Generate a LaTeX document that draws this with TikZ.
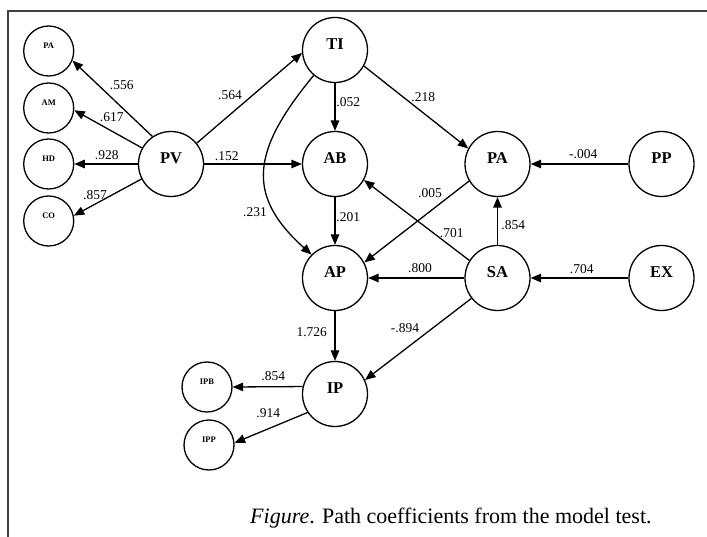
\documentclass[tikz,border=0pt]{standalone}
\usepackage{fontspec}
\setmainfont{Liberation Serif}
\usetikzlibrary{arrows.meta}
\begin{document}
\begin{tikzpicture}[x=1pt,y=-1pt,
  big/.style={circle,draw,line width=1.3pt,minimum size=65pt,inner sep=0pt},
  sml/.style={circle,draw,line width=1.3pt,minimum size=50pt,inner sep=0pt},
  btxt/.style={font=\fontsize{16.5}{16.5}\selectfont\bfseries,yshift=5.5pt},
  stxt/.style={font=\fontsize{8.5}{8.5}\selectfont\bfseries,yshift=5pt},
  arr/.style={line width=1.3pt,-{Triangle[length=10.5pt,width=8.5pt]}},
  coef/.style={font=\fontsize{13.5}{13.5}\selectfont,inner sep=0pt},
  frame/.style={line width=1.5pt,draw=black!75}]
\useasboundingbox (0,0) rectangle (707,537);
\draw[frame] (707,11) -- (8,11) -- (8,537);
% small indicator circles
\node[sml,label={[stxt]center:PA}] (sPA) at (48.7,51) {};
\node[sml,label={[stxt]center:AM}] (AM) at (48.7,108) {};
\node[sml,label={[stxt]center:HD}] (HD) at (48.7,164) {};
\node[sml,label={[stxt]center:CO}] (CO) at (48.7,221) {};
\node[sml,label={[stxt]center:IPB}] (IPB) at (207,387) {};
\node[sml,label={[stxt]center:IPP}] (IPP) at (209,445) {};
% main constructs
\node[big,label={[btxt]center:PV}] (PV) at (171,164) {};
\node[big,label={[btxt]center:TI}] (TI) at (335,50) {};
\node[big,label={[btxt]center:AB}] (AB) at (335,164) {};
\node[big,label={[btxt]center:AP}] (AP) at (335,278) {};
\node[big,label={[btxt]center:PA}] (PA) at (497.5,164) {};
\node[big,label={[btxt]center:PP}] (PP) at (661.5,164) {};
\node[big,label={[btxt]center:SA}] (SA) at (497.5,278) {};
\node[big,label={[btxt]center:EX}] (EX) at (661.5,278) {};
\node[big,label={[btxt]center:IP}] (IP) at (335,394) {};
% connectors
\draw[arr] (PV.124) -- (sPA.-22);
\draw[arr] (PV.151) -- (AM.-5);
\draw[arr] (PV.west) -- (HD.east);
\draw[arr] (PV.207) -- (CO.12);
\draw[arr] (PV.39) -- (TI.185);
\draw[arr] (PV.east) -- (AB.west);
\draw[arr] (TI.south) -- (AB.north);
\draw[arr] (TI.-29.5) -- (PA.152);
\draw[arr] (TI.230) .. controls (252,150) and (245,195) .. (AP.135);
\draw[arr] (AB.south) -- (AP.north);
\draw[arr] (PA.211) -- (AP.28);
\draw[arr] (SA.148.5) -- (AB.-29);
\draw[arr] (SA.north) -- (PA.south);
\draw[arr] (SA.west) -- (AP.east);
\draw[arr] (PP.west) -- (PA.east);
\draw[arr] (EX.west) -- (SA.east);
\draw[arr] (AP.south) -- (IP.north);
\draw[arr] (SA.218) -- (IP.25);
\draw[arr] (IP.167) -- (IPB.east);
\draw[arr] (IP.214) -- (IPP.5);
% coefficients
\node[coef] (l556) at (121.7,85) {.556};
\node[coef] (l617) at (111.7,116.7) {.617};
\node[coef] (l928) at (106.7,155) {.928};
\node[coef] (l857) at (95,195) {.857};
\node[coef] (l564) at (230,95) {.564};
\node[coef] (l152) at (226.7,156) {.152};
\node[coef] (l231) at (255,211.7) {.231};
\node[coef] (l052) at (348.3,101.7) {.052};
\node[coef] (l218) at (423.3,96.7) {.218};
\node[coef] (l004) at (583.3,154) {-.004};
\node[coef] (l005) at (430,192.7) {.005};
\node[coef] (l201) at (348.3,216.7) {.201};
\node[coef] (l701) at (451.7,233.3) {.701};
\node[coef] (l854a) at (513.3,225) {.854};
\node[coef] (l800) at (420,268.3) {.800};
\node[coef] (l704) at (581.7,269.3) {.704};
\node[coef] (l1726) at (311.7,331.7) {1.726};
\node[coef] (l894) at (405,328.3) {-.894};
\node[coef] (l854b) at (273.3,376) {.854};
\node[coef] (l914) at (268.3,413.3) {.914};
% caption
\node[anchor=base west,inner sep=0pt,font=\fontsize{22}{22}\selectfont] (cap) at (250,523) {\textit{Figure}. Path coefficients from the model test.};
\end{tikzpicture}
\end{document}
